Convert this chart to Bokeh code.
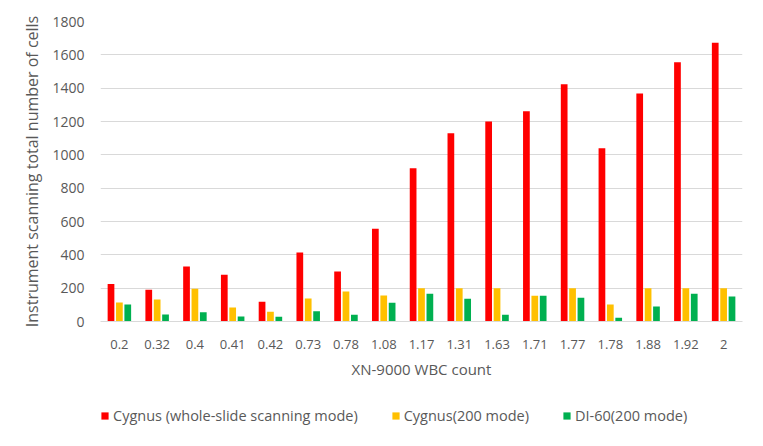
from bokeh.plotting import figure
from bokeh.layouts import column
from bokeh.models import ColumnDataSource, FactorRange, Legend, LegendItem, Range1d, SingleIntervalTicker
from bokeh.transform import dodge
from bokeh.embed import file_html
from bokeh.resources import INLINE

categories = ["0.2", "0.32", "0.4", "0.41", "0.42", "0.73", "0.78", "1.08", "1.17",
              "1.31", "1.63", "1.71", "1.77", "1.78", "1.88", "1.92", "2"]
cygnus_whole = [225, 190, 330, 280, 118, 414, 300, 556, 920, 1130, 1200, 1262, 1423, 1040, 1368, 1555, 1673]
cygnus_200 = [114, 132, 196, 84, 58, 138, 180, 156, 200, 200, 200, 154, 200, 102, 200, 200, 200]
di60_200 = [102, 42, 56, 30, 28, 62, 40, 112, 166, 136, 40, 154, 142, 22, 90, 167, 150]
series_names = ["Cygnus (whole-slide scanning mode)", "Cygnus(200 mode)", "DI-60(200 mode)"]
colors = ["#FF0000", "#FFC000", "#00B050"]

src = ColumnDataSource(dict(cat=categories, a=cygnus_whole, b=cygnus_200, c=di60_200))

FONT = "Open Sans"
GREY = "#595959"

p = figure(frame_width=642, frame_height=300,
           x_range=FactorRange(*categories), y_range=Range1d(0, 1800),
           output_backend="svg", toolbar_location=None,
           min_border_left=100, min_border_right=21, min_border_top=21, min_border_bottom=59,
           border_fill_color="white")
p.outline_line_color = None

w = 0.178
offsets = [-0.222, 0.0, 0.222]
r_a = p.vbar(x=dodge("cat", offsets[0], range=p.x_range), top="a", width=w, source=src,
             fill_color=colors[0], line_color=None)
r_b = p.vbar(x=dodge("cat", offsets[1], range=p.x_range), top="b", width=w, source=src,
             fill_color=colors[1], line_color=None)
r_c = p.vbar(x=dodge("cat", offsets[2], range=p.x_range), top="c", width=w, source=src,
             fill_color=colors[2], line_color=None)

p.x_range.range_padding = 0
p.x_range.group_padding = 0

p.yaxis.ticker = SingleIntervalTicker(interval=200)
p.ygrid.grid_line_color = "#d9d9d9"
p.ygrid.grid_line_width = 1
p.xgrid.grid_line_color = None

for ax in (p.xaxis[0], p.yaxis[0]):
    ax.major_tick_line_color = None
    ax.minor_tick_line_color = None
    ax.major_label_text_font = FONT
    ax.major_label_text_color = GREY
    ax.axis_label_text_font = FONT
    ax.axis_label_text_font_style = "normal"
    ax.axis_label_text_color = GREY

p.xaxis.major_label_text_font_size = "13px"
p.yaxis.major_label_text_font_size = "14px"
p.yaxis.axis_label_text_font_size = "16px"
p.xaxis.axis_label_text_font_size = "15px"

p.yaxis.axis_line_color = None
p.xaxis.axis_line_color = "#d9d9d9"
p.yaxis.major_label_standoff = 10
p.yaxis.axis_label = "Instrument scanning total number of cells"
p.yaxis.axis_label_standoff = 6
p.xaxis.major_label_standoff = 12
p.xaxis.axis_label = "XN-9000 WBC count"
p.xaxis.axis_label_standoff = 7

# legend panel: a separate, axis-free figure (frame aligned with the chart) holding only the legend
lf = figure(frame_width=642, frame_height=66, output_backend="svg", toolbar_location=None,
            x_range=Range1d(0, 1), y_range=Range1d(0, 1),
            x_axis_location=None, y_axis_location=None,
            min_border_left=100, min_border_right=21, min_border_top=0, min_border_bottom=0,
            border_fill_color="white", background_fill_color="white")
lf.outline_line_color = None
lf.grid.visible = False
# zero-height swatch renderers: they only provide the legend glyphs
swatch_src = ColumnDataSource(dict(x=[0.5], top=[0]))
swatches = [lf.vbar(x="x", top="top", bottom=0, width=0.01, source=swatch_src,
                    fill_color=c, line_color=None)
            for c in colors]
legend = Legend(items=[LegendItem(label=n, renderers=[r]) for n, r in zip(series_names, swatches)],
                orientation="horizontal", location=(0, 22),
                label_text_font=FONT, label_text_font_size="14.5px", label_text_color=GREY,
                glyph_width=9, glyph_height=9, spacing=33, label_standoff=4,
                border_line_color=None, background_fill_alpha=0, margin=0, padding=0)
lf.add_layout(legend, "center")

page = column(p, lf, spacing=0)

html = file_html(page, INLINE)
html = html.replace("<body>", "<body style=\"margin:0\">")
open("out.html", "w").write(html)
